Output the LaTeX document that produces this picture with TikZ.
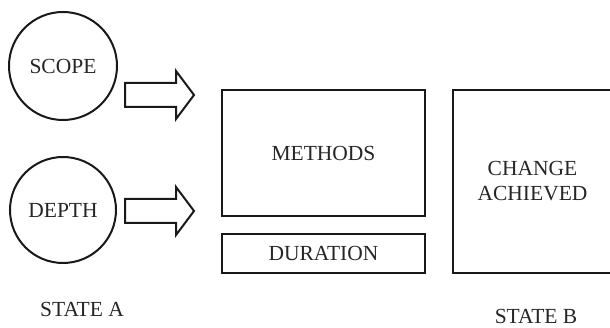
\documentclass[tikz,border=0pt]{standalone}
\usepackage{fontspec}
\setmainfont{Liberation Serif}
\begin{document}
\begin{tikzpicture}[x=1pt,y=-1pt,
  every node/.style={font=\fontsize{21.5}{25}\selectfont, text=black!85},
  ring/.style={draw=black!90, line width=2pt, circle, inner sep=0pt, minimum size=#1},
  panel/.style={draw=black!90, line width=2pt, inner sep=0pt, align=center},
  blockarrow/.style={draw=black!90, line width=2pt, line join=miter}]
\clip (0,0) rectangle (610,328);
\useasboundingbox (0,0) rectangle (610,328);

\node[ring=108pt] (scope) at (63,66) {SCOPE};
\node[ring=106pt] (depth) at (63,210) {DEPTH};

\node[panel, minimum width=203pt, minimum height=126pt] (methods) at (323.5,153) {METHODS};
\node[panel, minimum width=203pt, minimum height=39pt] (duration) at (323.5,253.5) {DURATION};
\node[panel, minimum width=159pt, minimum height=183pt] (change) at (532.5,181.5) {CHANGE\\ACHIEVED};

\node (statea) at (82,309) {STATE A};
\node[inner sep=0pt] (stateb) at (536,316) {STATE B};

\coordinate (a1) at (125,95);
\coordinate (a2) at (125,211);
\foreach \c in {a1,a2}{
  \draw[blockarrow] (\c) ++(0,-12) -- ++(51,0) -- ++(0,-12) -- ++(18,24) -- ++(-18,24) -- ++(0,-12) -- ++(-51,0) -- cycle;
}
\end{tikzpicture}
\end{document}
